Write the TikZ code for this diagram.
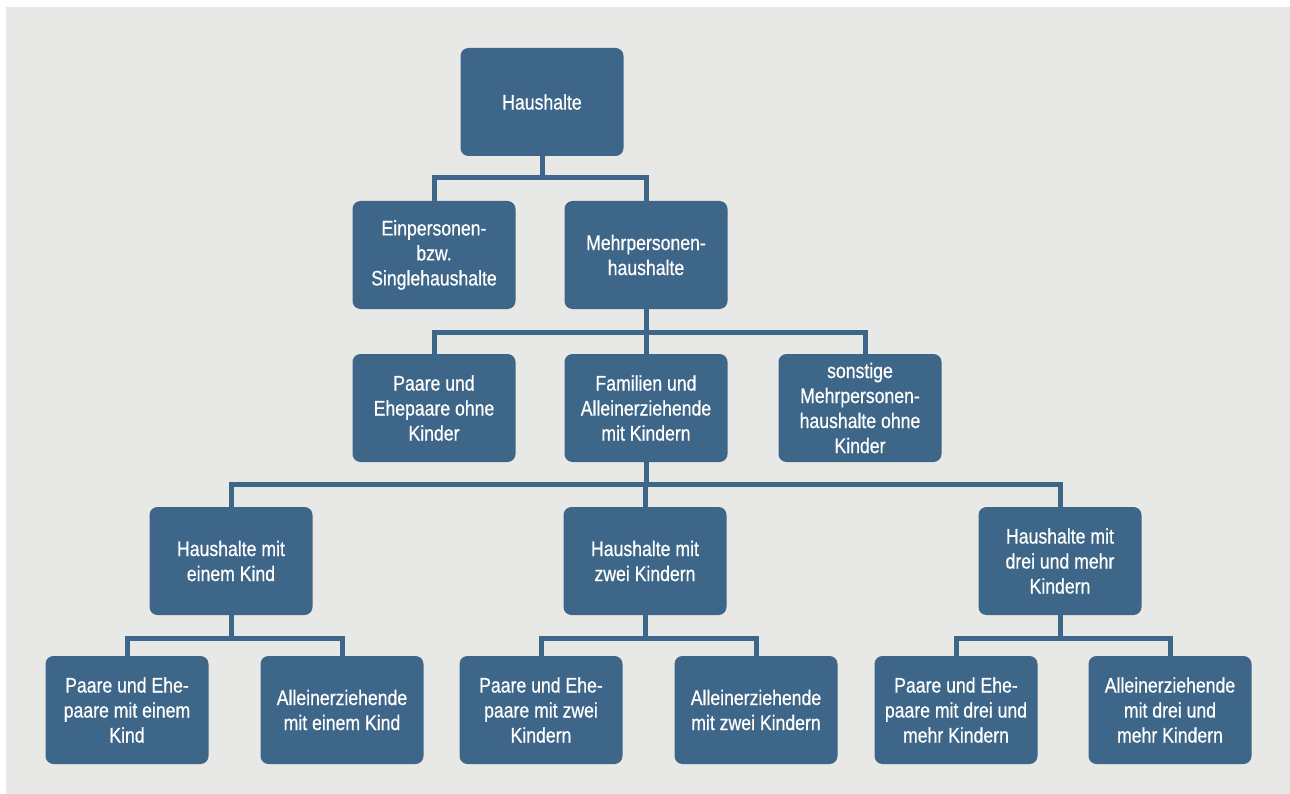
\documentclass[tikz,border=0pt]{standalone}
\usepackage{fontspec}
\setmainfont[FakeStretch=0.84, FakeBold=0.6]{Liberation Sans}
\definecolor{boxblue}{RGB}{61,102,137}
\definecolor{bggrey}{RGB}{232,232,230}

\begin{document}
\begin{tikzpicture}[x=1pt, y=-1pt,
    box/.style={rectangle, rounded corners=8pt, fill=boxblue, text=white,
        minimum width=163pt, minimum height=108pt, inner sep=2pt,
        align=center, font=\fontsize{21}{25}\selectfont},
    link/.style={draw=boxblue, line width=5pt, line join=miter}]
\useasboundingbox (0,0) rectangle (1290,794);
\fill[bggrey] (6,7) rectangle (1290,794);

\node[box] (H) at (542,102) {Haushalte};
\node[box] (E) at (434,255) {Einpersonen-\\bzw.\\Singlehaushalte};
\node[box] (M) at (646,255) {Mehrpersonen-\\haushalte};
\node[box] (P) at (434,408) {Paare und\\Ehepaare ohne\\Kinder};
\node[box] (F) at (646,408) {Familien und\\Alleinerziehende\\mit Kindern};
\node[box] (S) at (860,408) {sonstige\\Mehrpersonen-\\haushalte ohne\\Kinder};
\node[box] (K1) at (231,561) {Haushalte mit\\einem Kind};
\node[box] (K2) at (645,561) {Haushalte mit\\zwei Kindern};
\node[box] (K3) at (1060,561) {Haushalte mit\\drei und mehr\\Kindern};
\node[box] (P1) at (127,710) {Paare und Ehe-\\paare mit einem\\Kind};
\node[box] (A1) at (342,710) {Alleinerziehende\\mit einem Kind};
\node[box] (P2) at (541,710) {Paare und Ehe-\\paare mit zwei\\Kindern};
\node[box] (A2) at (756,710) {Alleinerziehende\\mit zwei Kindern};
\node[box] (P3) at (956,710) {Paare und Ehe-\\paare mit drei und\\mehr Kindern};
\node[box] (A3) at (1170,710) {Alleinerziehende\\mit drei und\\mehr Kindern};

\draw[link] (H.south) -- ++(0,21) -| (E.north);
\draw[link] (H.south) -- ++(0,21) -| (M.north);
\draw[link] (M.south) -- ++(0,23) -| (P.north);
\draw[link] (M.south) -- (F.north);
\draw[link] (M.south) -- ++(0,23) -| ([xshift=5pt]S.north);
\foreach \k in {K1,K2,K3} {
    \draw[link] (F.south) -- ++(0,22) -| (\k.north);
}
\foreach \k/\p/\a in {K1/P1/A1, K2/P2/A2, K3/P3/A3} {
    \draw[link] (\k.south) -- ++(0,23) -| (\p.north);
    \draw[link] (\k.south) -- ++(0,23) -| (\a.north);
}
\end{tikzpicture}
\end{document}
